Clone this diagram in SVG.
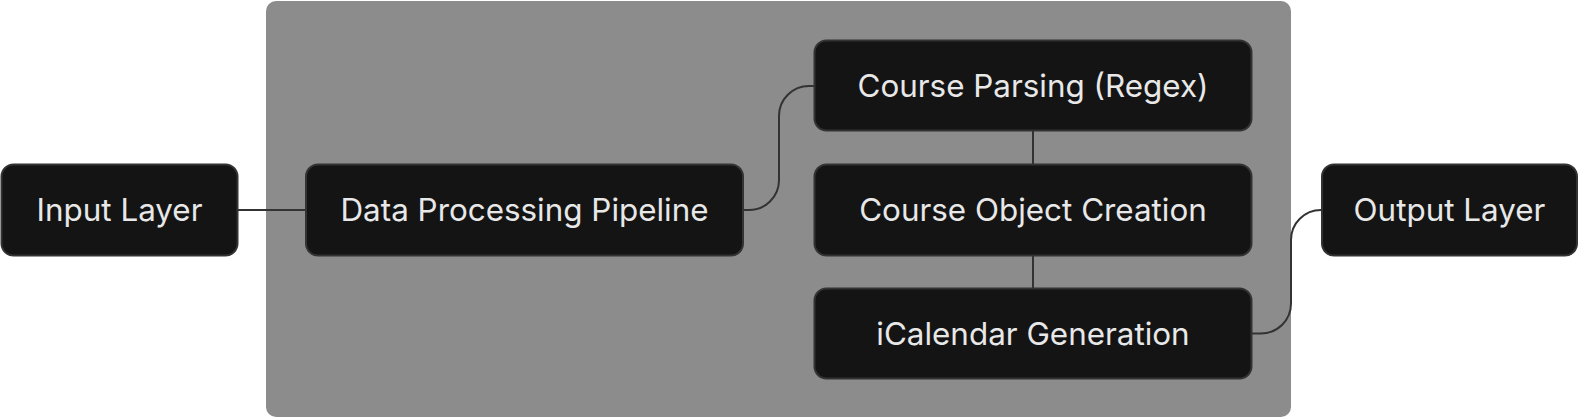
<svg xmlns="http://www.w3.org/2000/svg" width="1580" height="420" viewBox="0 0 1580 420">
<style>
.node rect{fill:#141414;stroke:#333333;stroke-width:2}
.node text{fill:#e8e8e8;font-family:Inter,"Noto Sans","Liberation Sans",sans-serif;font-size:31.4px;text-anchor:middle;dominant-baseline:central}
.edge{fill:none;stroke:#333333;stroke-width:2}
</style>
<rect x="0" y="0" width="1580" height="420" fill="#ffffff"/>
<g id="cluster">
<rect x="266" y="1" width="1025" height="416" rx="10" fill="#8c8c8c"/>
</g>
<g id="connectors">
<path class="edge" d="M237.5,210 L306,210"/>
<path class="edge" d="M743,210 L749,210 A30,30 0 0 0 779,180 L779,116 A30,30 0 0 1 809,86 L814,86"/>
<path class="edge" d="M1033,131 L1033,164.5"/>
<path class="edge" d="M1033,255.5 L1033,288.5"/>
<path class="edge" d="M1252,333.5 L1261,333.5 A30,30 0 0 0 1291,303.5 L1291,240 A30,30 0 0 1 1321,210 L1322,210"/>
</g>
<g id="input" class="node">
<rect x="1.5" y="164.5" width="236" height="91" rx="12"/>
<text x="119.5" y="210">Input Layer</text>
</g>
<g id="pipeline" class="node">
<rect x="306" y="164.5" width="437" height="91" rx="12"/>
<text x="524.5" y="210">Data Processing Pipeline</text>
</g>
<g id="parsing" class="node">
<rect x="814.5" y="40.5" width="437" height="90" rx="12"/>
<text x="1033" y="85.5">Course Parsing (Regex)</text>
</g>
<g id="object" class="node">
<rect x="814.5" y="164.5" width="437" height="91" rx="12"/>
<text x="1033" y="210">Course Object Creation</text>
</g>
<g id="ical" class="node">
<rect x="814.5" y="288.5" width="437" height="90" rx="12"/>
<text x="1033" y="333.5">iCalendar Generation</text>
</g>
<g id="output" class="node">
<rect x="1322" y="164.5" width="255" height="91" rx="12"/>
<text x="1449.5" y="210">Output Layer</text>
</g>
</svg>
